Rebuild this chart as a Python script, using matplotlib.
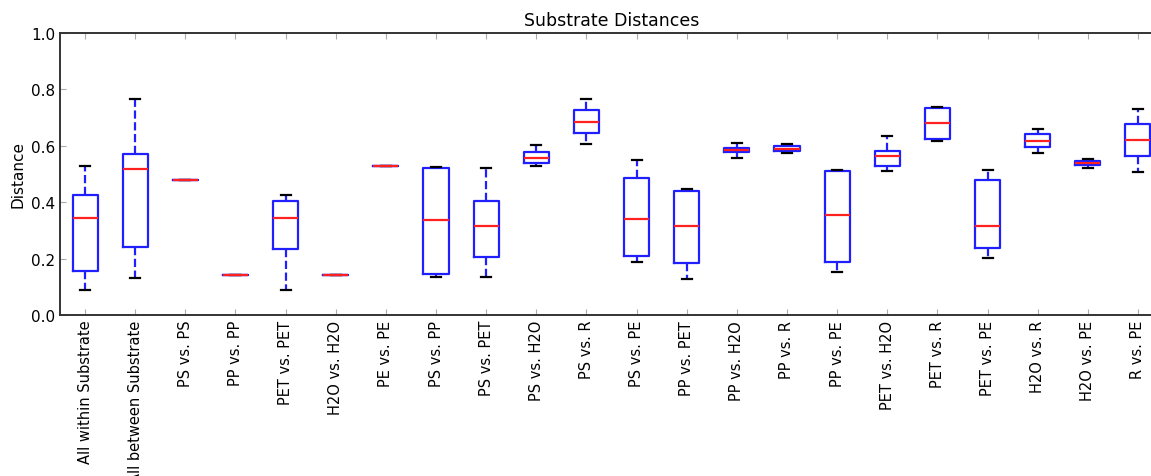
import matplotlib
matplotlib.use("Agg")
import matplotlib.pyplot as plt

# Box statistics
labels = ["All within Substrate", "All between Substrate", "PS vs. PS", "PP vs. PP",
          "PET vs. PET", "H2O vs. H2O", "PE vs. PE", "PS vs. PP", "PS vs. PET",
          "PS vs. H2O", "PS vs. R", "PS vs. PE", "PP vs. PET", "PP vs. H2O",
          "PP vs. R", "PP vs. PE", "PET vs. H2O", "PET vs. R", "PET vs. PE",
          "H2O vs. R", "H2O vs. PE", "R vs. PE"]
whishi = [0.530, 0.766, 0.480, 0.142, 0.426, 0.141, 0.528, 0.526, 0.521, 0.603, 0.766,
          0.551, 0.447, 0.611, 0.605, 0.514, 0.634, 0.739, 0.514, 0.661, 0.552, 0.732]
q3 = [0.426, 0.572, 0.480, 0.142, 0.403, 0.141, 0.528, 0.521, 0.403, 0.577, 0.726,
      0.485, 0.439, 0.593, 0.598, 0.512, 0.580, 0.735, 0.479, 0.641, 0.545, 0.676]
med = [0.343, 0.517, 0.480, 0.142, 0.343, 0.141, 0.528, 0.337, 0.317, 0.557, 0.684,
       0.340, 0.317, 0.585, 0.590, 0.355, 0.565, 0.681, 0.317, 0.618, 0.538, 0.620]
q1 = [0.155, 0.240, 0.480, 0.142, 0.235, 0.141, 0.528, 0.145, 0.206, 0.539, 0.644,
      0.209, 0.183, 0.577, 0.582, 0.187, 0.528, 0.624, 0.236, 0.596, 0.531, 0.565]
whislo = [0.089, 0.130, 0.480, 0.142, 0.089, 0.141, 0.528, 0.134, 0.135, 0.527, 0.605,
          0.187, 0.128, 0.558, 0.576, 0.151, 0.511, 0.616, 0.202, 0.574, 0.520, 0.508]

stats = []
for i in range(len(labels)):
    stats.append(dict(label=labels[i], whislo=whislo[i], q1=q1[i], med=med[i],
                      q3=q3[i], whishi=whishi[i], fliers=[]))

fig = plt.figure(figsize=(11.51, 4.77), dpi=100)
ax = fig.add_axes([60 / 1151, 161 / 477, 1103 / 1151, 282 / 477])

ax.bxp(stats, widths=0.5, capwidths=0.2, showfliers=False,
       boxprops=dict(color="#1f1fff", linewidth=1.6),
       whiskerprops=dict(color="#1f1fff", linewidth=1.6, linestyle="--"),
       capprops=dict(color="black", linewidth=1.6),
       medianprops=dict(color="#ff2020", linewidth=1.6))

ax.set_xlim(0.5, len(labels) + 0.5)
ax.set_ylim(0.0, 1.0)
ax.set_yticks([0.0, 0.2, 0.4, 0.6, 0.8, 1.0])
ax.set_xticklabels(labels, rotation=90, fontsize=10.5)
ax.tick_params(axis="y", labelsize=11)
ax.tick_params(direction="in", top=True, right=True, length=4, color="#aaaaaa")
for s in ax.spines.values():
    s.set_linewidth(1.4)
    s.set_color("#333333")

ax.set_ylabel("Distance", fontsize=11)
ax.set_title("Substrate Distances", fontsize=12.5)

fig.savefig("out.png", dpi=100)
